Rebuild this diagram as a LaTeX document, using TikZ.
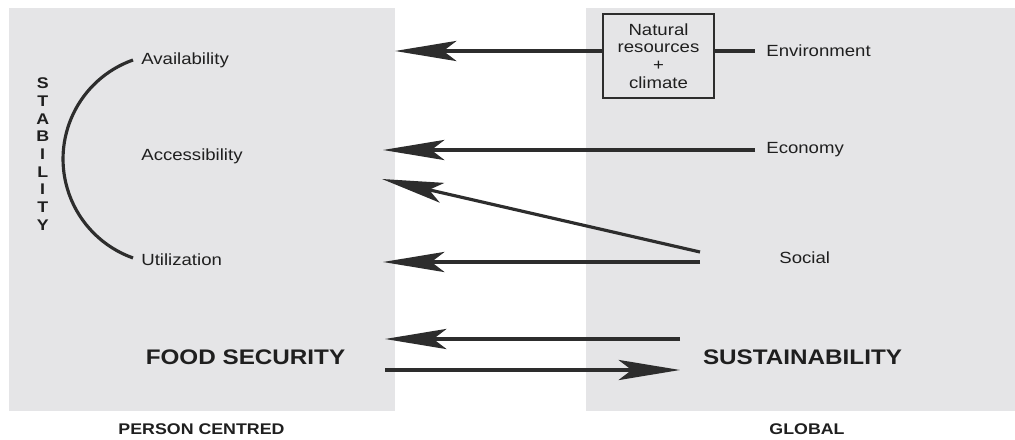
\documentclass[tikz,border=0pt]{standalone}
\usepackage{fontspec}
\setmainfont[FakeStretch=1.15]{Liberation Sans}
\usetikzlibrary{arrows.meta}
\definecolor{panelgray}{RGB}{229,229,231}
\definecolor{inkgray}{RGB}{45,45,45}

\begin{document}
\begin{tikzpicture}[
x=0.2mm, y=0.2mm,
label/.style={
  text=black!88,
  inner sep=0pt,
  font=\fontsize{9.2}{10}\selectfont
},
heading/.style={text=black!88,inner sep=0pt,font=\fontsize{12}{14}\selectfont\bfseries},
caption/.style={text=black!88,inner sep=0pt,font=\fontsize{8.8}{10}\selectfont\bfseries},
box/.style={draw=inkgray,line width=1.5pt,align=center,inner sep=0pt,
  minimum width=22.2mm,minimum height=16.8mm,label},
link/.style={draw=inkgray,line width=1.8pt},
arrow/.style={link,-{Stealth[length=35pt,width=11.5pt,inset=7.5pt]}}
]

\useasboundingbox (0,0) rectangle (1015,439);
\fill [panelgray] (9,28) rectangle (395,431);
\fill [panelgray] (586,28) rectangle (1015,431);

\node (avail) at (141,374) [label,anchor=base west] {Availability};
\node (access) at (141,279) [label,anchor=base west] {Accessibility};
\node (util) at (141,174) [label,anchor=base west] {Utilization};
\node (stab) at (42.7,285) [align=center,inner sep=0pt,text=black!88,
  font=\fontsize{8.8}{10.07}\selectfont\bfseries] {S\\T\\A\\B\\I\\L\\I\\T\\Y};

\node (nr) at (658.5,383) [box] {Natural\\resources\\+\\climate};
\node (env) at (766,382) [label,anchor=base west] {Environment};
\node (eco) at (766,286) [label,anchor=base west] {Economy};
\node (soc) at (779,176) [label,anchor=base west] {Social};

\node (fs) at (245.5,75) [heading,anchor=base] {FOOD SECURITY};
\node (su) at (802.5,75) [heading,anchor=base] {SUSTAINABILITY};
\node (pc) at (201.5,5) [caption,anchor=base] {PERSON CENTRED};
\node (gl) at (807,5) [caption,anchor=base] {GLOBAL};

\coordinate (arctop) at (133,379);
\coordinate (envtip) at (395,388);
\coordinate (envend) at (755,388);
\coordinate (ecotip) at (383,289);
\coordinate (ecoend) at (755,289);
\coordinate (socup) at (700,187);
\coordinate (soclow) at (700,177);
\coordinate (soctip1) at (382,260);
\coordinate (soctip2) at (383,177);
\coordinate (fsin) at (385,100);
\coordinate (fsout) at (385,69);
\coordinate (suin) at (680,69);
\coordinate (suout) at (680,100);

\draw [link] (arctop) arc [start angle=109.5,end angle=250.5,radius=105];

\draw [arrow] (nr.west |- envtip) to (envtip);
\draw [link] (nr.east |- envend) to (envend);
\draw [arrow] (ecoend) to (ecotip);
\draw [arrow] (socup) to (soctip1);
\draw [arrow] (soclow) to (soctip2);
\draw [arrow] (suout) to (fsin);
\draw [arrow] (fsout) to (suin);

\end{tikzpicture}
\end{document}
